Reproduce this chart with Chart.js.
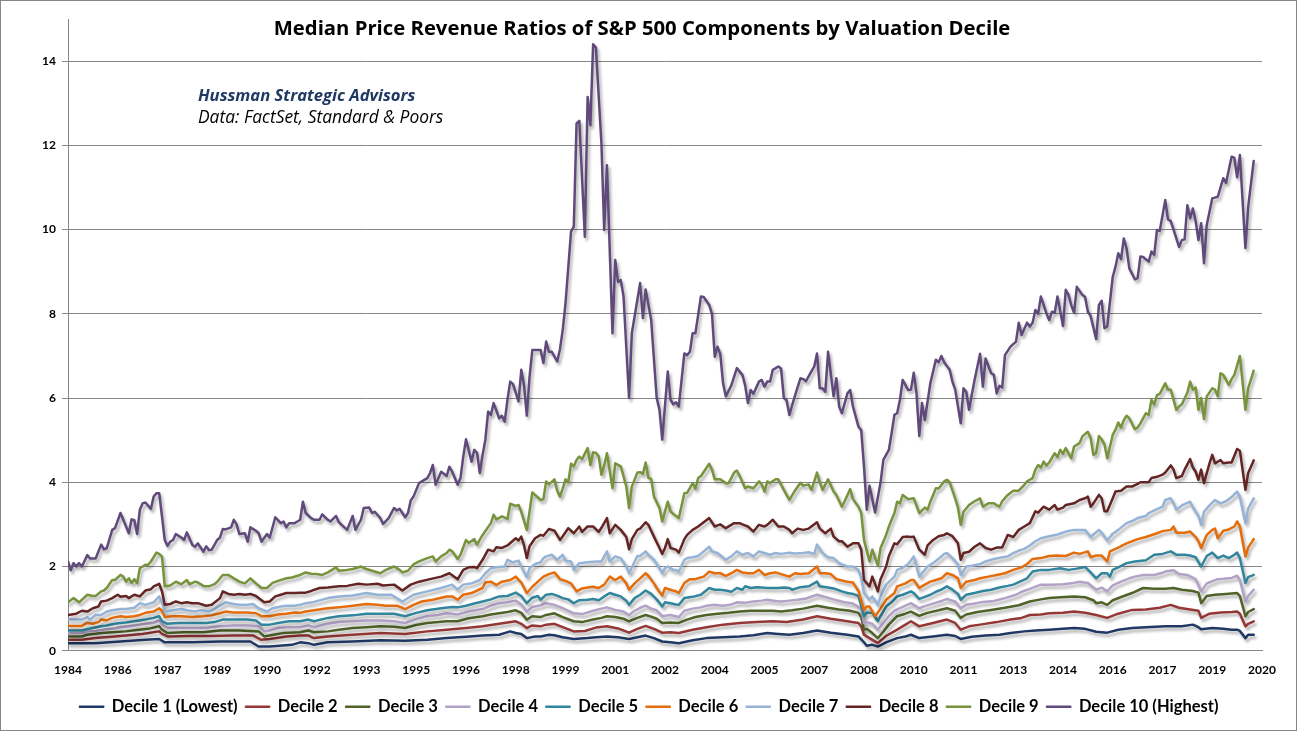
<!DOCTYPE html>
<html><head><meta charset="utf-8">
<script src="https://cdn.jsdelivr.net/npm/chart.js@4.4.1/dist/chart.umd.min.js"></script>
<style>html,body{margin:0;padding:0;background:#fff;}canvas{display:block;}</style>
</head><body>
<canvas id="c" width="1297" height="731"></canvas>
<script>
// x = month index from the first data point; axis labels every 18 months
const tickLabels = ['1984','1986','1987','1989','1990','1992','1993','1995','1996','1998','1999','2001','2002','2004','2005','2007','2008','2010','2011','2013','2014','2016','2017','2019','2020'];
const yTicks = [0,2,4,6,8,10,12,14];
const seriesNames = ['Decile 1 (Lowest)','Decile 2','Decile 3','Decile 4','Decile 5','Decile 6','Decile 7','Decile 8','Decile 9','Decile 10 (Highest)'];
const seriesColors = ['#203864','#953735','#4F6228','#B3A2C7','#31859C','#E46C0A','#95B3D7','#632523','#77933C','#604A7B'];

const decile1 = [[0,0.18],[10,0.18],[19,0.22],[28,0.26],[33,0.28],[35,0.20],[45,0.20],[55,0.22],[66,0.22],[69,0.10],[73,0.10],[81,0.14],[84,0.20],[87,0.18],[89,0.14],[94,0.20],[103,0.22],[113,0.25],[122,0.24],[130,0.26],[137,0.30],[144,0.33],[150,0.36],[156,0.38],[160,0.46],[162,0.42],[164,0.40],[166,0.30],[169,0.34],[171,0.34],[174,0.38],[176,0.37],[179,0.32],[183,0.28],[188,0.30],[191,0.32],[195,0.34],[199,0.32],[203,0.28],[206,0.32],[209,0.36],[212,0.30],[215,0.22],[218,0.20],[221,0.18],[226,0.25],[231,0.30],[237,0.32],[243,0.34],[248,0.37],[253,0.42],[257,0.40],[261,0.38],[266,0.42],[271,0.48],[276,0.43],[282,0.38],[286,0.34],[288,0.20],[289,0.12],[291,0.14],[293,0.10],[296,0.20],[300,0.30],[303,0.34],[305,0.38],[308,0.30],[313,0.34],[318,0.38],[321,0.35],[323,0.28],[327,0.33],[332,0.36],[337,0.38],[341,0.42],[346,0.46],[350,0.48],[355,0.50],[360,0.52],[364,0.54],[368,0.52],[372,0.45],[376,0.43],[380,0.50],[385,0.54],[390,0.56],[397,0.58],[403,0.58],[407,0.62],[409,0.56],[410,0.51],[414,0.54],[418,0.52],[421,0.50],[423,0.50],[424,0.47],[426,0.30],[427,0.38],[429,0.38]];

const decile2 = [[0,0.26],[5,0.26],[10,0.30],[16,0.33],[21,0.36],[27,0.40],[33,0.46],[34,0.40],[36,0.34],[44,0.35],[52,0.35],[60,0.36],[67,0.36],[70,0.26],[73,0.28],[79,0.34],[84,0.36],[87,0.36],[89,0.30],[94,0.34],[103,0.38],[113,0.42],[122,0.40],[130,0.46],[137,0.50],[144,0.54],[150,0.58],[156,0.64],[162,0.70],[164,0.64],[166,0.54],[168,0.60],[171,0.58],[173,0.62],[176,0.64],[179,0.56],[183,0.46],[187,0.47],[191,0.55],[195,0.58],[199,0.53],[203,0.43],[206,0.52],[209,0.59],[212,0.52],[215,0.43],[218,0.44],[221,0.42],[226,0.50],[231,0.56],[237,0.62],[243,0.66],[249,0.68],[255,0.70],[260,0.68],[266,0.74],[271,0.82],[276,0.76],[282,0.70],[286,0.66],[287,0.58],[288,0.38],[290,0.30],[293,0.18],[296,0.35],[300,0.50],[303,0.62],[305,0.70],[308,0.58],[313,0.66],[318,0.74],[321,0.66],[323,0.50],[326,0.58],[330,0.62],[336,0.68],[341,0.74],[345,0.78],[348,0.85],[352,0.86],[355,0.89],[360,0.90],[364,0.93],[368,0.90],[372,0.85],[376,0.78],[380,0.88],[385,0.97],[390,0.98],[395,1.02],[399,1.09],[402,1.02],[406,0.98],[409,0.95],[410,0.78],[413,0.88],[417,0.91],[421,0.92],[423,0.93],[424,0.88],[426,0.58],[427,0.64],[429,0.70]];

const decile3 = [[0,0.34],[5,0.34],[7,0.38],[12,0.42],[16,0.44],[21,0.46],[25,0.49],[29,0.52],[33,0.58],[34,0.50],[36,0.42],[42,0.44],[49,0.44],[55,0.48],[62,0.48],[69,0.46],[71,0.34],[73,0.36],[78,0.42],[84,0.44],[87,0.48],[89,0.44],[94,0.46],[98,0.50],[103,0.54],[108,0.56],[113,0.58],[118,0.57],[122,0.54],[126,0.61],[130,0.66],[134,0.68],[137,0.70],[141,0.70],[145,0.77],[150,0.82],[153,0.86],[156,0.89],[159,0.92],[162,0.96],[164,0.90],[166,0.74],[168,0.82],[171,0.80],[173,0.85],[176,0.89],[179,0.80],[183,0.70],[186,0.68],[190,0.74],[193,0.78],[195,0.82],[198,0.80],[201,0.76],[203,0.70],[206,0.78],[209,0.85],[211,0.81],[213,0.76],[215,0.66],[218,0.67],[221,0.66],[224,0.74],[227,0.80],[231,0.85],[235,0.88],[239,0.90],[243,0.93],[247,0.95],[251,0.95],[255,0.95],[258,0.93],[262,0.96],[266,1.00],[271,1.07],[275,1.02],[279,0.98],[283,0.95],[286,0.90],[287,0.80],[288,0.50],[289,0.52],[291,0.42],[293,0.30],[295,0.45],[297,0.62],[300,0.82],[303,0.88],[305,0.93],[308,0.83],[311,0.90],[315,0.96],[318,1.01],[321,0.95],[323,0.78],[325,0.86],[329,0.92],[334,0.97],[339,1.02],[344,1.08],[348,1.17],[352,1.22],[355,1.25],[359,1.27],[364,1.29],[368,1.27],[371,1.20],[372,1.13],[374,1.15],[376,1.09],[378,1.20],[382,1.30],[385,1.37],[389,1.49],[393,1.47],[397,1.47],[400,1.49],[403,1.45],[407,1.42],[409,1.38],[410,1.13],[412,1.30],[415,1.33],[419,1.35],[421,1.36],[423,1.37],[424,1.30],[426,0.82],[427,0.92],[429,0.99]];

const decile4 = [[0,0.42],[5,0.42],[7,0.46],[10,0.47],[12,0.49],[14,0.51],[17,0.53],[19,0.56],[22,0.58],[24,0.60],[26,0.62],[28,0.64],[31,0.66],[33,0.72],[34,0.62],[36,0.54],[40,0.54],[45,0.54],[50,0.54],[55,0.58],[60,0.60],[65,0.60],[69,0.58],[71,0.46],[73,0.48],[76,0.54],[80,0.56],[84,0.56],[87,0.60],[89,0.56],[94,0.64],[98,0.68],[103,0.70],[108,0.72],[113,0.72],[118,0.70],[122,0.66],[126,0.75],[130,0.82],[134,0.85],[137,0.89],[141,0.86],[145,0.93],[150,0.99],[153,1.07],[156,1.13],[159,1.15],[162,1.19],[164,1.10],[166,0.93],[168,1.04],[171,1.08],[173,1.13],[176,1.09],[179,1.01],[183,0.89],[186,0.87],[190,0.95],[193,1.00],[195,1.03],[198,0.97],[201,0.93],[203,0.85],[205,0.95],[207,1.02],[209,1.07],[211,1.00],[213,0.96],[215,0.82],[218,0.85],[221,0.80],[223,0.95],[226,1.00],[229,1.03],[231,1.07],[234,1.09],[237,1.07],[240,1.10],[242,1.15],[245,1.14],[248,1.17],[251,1.19],[253,1.21],[256,1.18],[258,1.17],[261,1.19],[264,1.21],[267,1.24],[271,1.33],[274,1.28],[277,1.22],[281,1.15],[284,1.12],[287,1.00],[288,0.66],[289,0.68],[291,0.64],[293,0.50],[295,0.66],[297,0.82],[299,0.95],[301,1.01],[303,1.07],[305,1.13],[308,1.01],[310,1.06],[313,1.12],[316,1.18],[318,1.23],[321,1.17],[323,1.01],[325,1.09],[328,1.12],[331,1.16],[335,1.18],[339,1.25],[343,1.33],[345,1.40],[348,1.47],[352,1.57],[356,1.57],[360,1.58],[363,1.60],[366,1.64],[369,1.61],[372,1.45],[374,1.50],[376,1.41],[378,1.55],[381,1.64],[384,1.72],[386,1.76],[389,1.80],[393,1.80],[396,1.85],[397,1.88],[400,1.91],[402,1.82],[405,1.80],[408,1.70],[410,1.41],[412,1.60],[414,1.65],[416,1.70],[418,1.71],[421,1.73],[423,1.78],[424,1.68],[426,1.17],[427,1.30],[429,1.45]];

const decile5 = [[0,0.48],[5,0.48],[7,0.51],[9,0.54],[12,0.58],[14,0.60],[17,0.64],[19,0.66],[21,0.67],[24,0.70],[26,0.72],[28,0.74],[31,0.78],[33,0.82],[34,0.70],[36,0.64],[40,0.66],[45,0.66],[50,0.66],[53,0.68],[56,0.74],[60,0.74],[65,0.74],[68,0.72],[70,0.62],[73,0.62],[76,0.66],[80,0.70],[84,0.70],[87,0.74],[89,0.70],[94,0.78],[98,0.82],[103,0.84],[108,0.88],[113,0.88],[118,0.88],[122,0.82],[126,0.90],[130,0.96],[135,1.01],[139,1.04],[141,1.03],[144,1.07],[147,1.12],[150,1.17],[153,1.22],[156,1.29],[159,1.30],[162,1.38],[164,1.30],[166,1.13],[168,1.26],[170,1.30],[171,1.21],[173,1.33],[175,1.35],[177,1.31],[179,1.25],[181,1.22],[183,1.13],[185,1.20],[188,1.21],[190,1.23],[192,1.20],[194,1.29],[196,1.37],[198,1.33],[200,1.29],[202,1.19],[203,1.09],[205,1.25],[207,1.33],[209,1.43],[211,1.35],[213,1.22],[215,1.05],[216,1.15],[218,1.13],[220,1.10],[221,1.09],[223,1.25],[226,1.28],[229,1.33],[232,1.49],[234,1.45],[236,1.45],[238,1.43],[240,1.40],[242,1.49],[244,1.45],[245,1.53],[247,1.49],[249,1.51],[251,1.50],[253,1.49],[255,1.49],[257,1.49],[259,1.50],[261,1.49],[262,1.45],[265,1.51],[268,1.53],[271,1.64],[272,1.53],[275,1.50],[277,1.48],[280,1.41],[282,1.37],[284,1.35],[286,1.30],[288,0.82],[289,0.90],[291,0.90],[293,0.70],[294,0.82],[296,1.05],[298,1.15],[300,1.29],[302,1.33],[305,1.41],[306,1.37],[308,1.23],[310,1.28],[312,1.33],[314,1.40],[316,1.45],[318,1.53],[320,1.45],[322,1.35],[323,1.21],[325,1.33],[328,1.37],[331,1.42],[334,1.45],[337,1.50],[340,1.54],[342,1.57],[345,1.66],[347,1.72],[349,1.88],[352,1.92],[355,1.92],[359,1.96],[362,1.92],[365,1.95],[368,1.99],[370,1.86],[372,1.72],[374,1.84],[376,1.84],[377,1.76],[378,1.92],[380,1.98],[383,2.08],[386,2.12],[390,2.15],[393,2.28],[396,2.30],[399,2.36],[401,2.28],[404,2.28],[406,2.26],[408,2.22],[410,2.00],[412,2.25],[414,2.33],[416,2.20],[418,2.26],[420,2.20],[422,2.28],[423,2.33],[424,2.20],[426,1.61],[427,1.75],[429,1.80]];

const decile6 = [[0,0.59],[3,0.59],[5,0.59],[7,0.66],[9,0.64],[11,0.68],[12,0.74],[14,0.72],[16,0.78],[19,0.82],[21,0.80],[24,0.82],[26,0.85],[28,0.90],[31,0.93],[33,1.01],[34,0.95],[35,0.80],[38,0.82],[41,0.82],[45,0.80],[49,0.82],[52,0.84],[55,0.89],[57,0.93],[60,0.91],[65,0.91],[68,0.89],[70,0.82],[73,0.82],[76,0.86],[79,0.88],[82,0.91],[84,0.90],[86,0.93],[89,0.96],[94,1.01],[98,1.03],[103,1.07],[108,1.11],[112,1.09],[115,1.07],[119,1.07],[122,0.99],[125,1.09],[128,1.17],[132,1.21],[137,1.29],[139,1.29],[141,1.21],[143,1.33],[146,1.37],[150,1.49],[151,1.62],[153,1.64],[155,1.56],[157,1.64],[160,1.68],[162,1.76],[164,1.62],[166,1.37],[168,1.52],[170,1.64],[172,1.76],[174,1.82],[176,1.86],[178,1.70],[180,1.66],[182,1.60],[184,1.41],[186,1.48],[188,1.50],[190,1.52],[192,1.49],[194,1.57],[196,1.76],[198,1.68],[200,1.76],[202,1.60],[203,1.45],[205,1.60],[207,1.72],[209,1.84],[210,1.78],[212,1.60],[213,1.49],[215,1.31],[216,1.49],[218,1.45],[220,1.41],[221,1.37],[223,1.61],[225,1.70],[227,1.70],[228,1.72],[230,1.76],[232,1.88],[234,1.84],[236,1.84],[238,1.78],[240,1.84],[242,1.92],[244,1.86],[246,1.84],[248,1.84],[250,1.92],[252,1.80],[254,1.84],[256,1.86],[258,1.82],[261,1.76],[263,1.84],[265,1.82],[268,1.84],[271,2.00],[272,1.84],[274,1.84],[276,1.82],[278,1.70],[282,1.64],[284,1.62],[286,1.42],[288,0.97],[289,1.05],[290,1.05],[292,0.82],[294,1.00],[296,1.21],[299,1.37],[300,1.53],[303,1.60],[305,1.68],[306,1.68],[308,1.49],[310,1.57],[312,1.64],[314,1.68],[316,1.72],[318,1.84],[320,1.80],[322,1.72],[323,1.49],[325,1.64],[328,1.68],[330,1.72],[333,1.76],[336,1.80],[339,1.84],[342,1.92],[345,1.98],[347,2.06],[349,2.18],[352,2.20],[355,2.25],[358,2.26],[361,2.25],[364,2.33],[366,2.30],[369,2.36],[370,2.22],[372,2.26],[374,2.26],[376,2.12],[377,2.36],[380,2.45],[383,2.55],[387,2.65],[390,2.70],[394,2.79],[396,2.84],[399,2.87],[400,2.95],[401,2.80],[404,2.80],[406,2.83],[408,2.70],[409,2.60],[410,2.44],[412,2.75],[414,2.87],[415,2.90],[416,2.67],[418,2.85],[420,2.88],[422,2.95],[423,3.07],[424,2.95],[426,2.24],[427,2.45],[429,2.65]];

const decile7 = [[0,0.74],[3,0.74],[5,0.74],[7,0.80],[8,0.74],[10,0.85],[12,0.85],[14,0.93],[16,0.96],[19,0.99],[21,0.99],[24,1.02],[26,1.13],[28,1.09],[31,1.15],[33,1.29],[34,1.15],[35,0.93],[38,0.96],[41,0.99],[43,0.96],[46,0.93],[48,0.96],[51,0.93],[53,0.99],[55,1.07],[57,1.15],[60,1.11],[62,1.09],[65,1.09],[67,1.11],[69,1.01],[72,0.93],[74,1.01],[77,1.05],[79,1.07],[82,1.07],[84,1.09],[86,1.13],[89,1.16],[94,1.25],[98,1.29],[103,1.31],[108,1.37],[112,1.33],[117,1.33],[121,1.17],[125,1.33],[130,1.41],[135,1.49],[139,1.57],[141,1.45],[143,1.57],[146,1.60],[149,1.68],[151,1.84],[153,1.96],[155,1.98],[158,2.00],[159,2.16],[161,2.10],[163,2.14],[164,2.00],[166,1.75],[167,1.96],[169,2.06],[171,2.10],[172,2.20],[173,2.24],[175,2.28],[177,2.16],[179,2.28],[180,2.14],[182,2.12],[183,1.92],[185,2.08],[188,2.10],[191,2.12],[193,2.12],[195,2.36],[196,2.12],[198,2.24],[200,2.20],[202,2.00],[203,1.84],[205,2.12],[206,2.25],[207,2.25],[209,2.36],[210,2.28],[212,2.16],[214,1.96],[215,1.84],[216,1.96],[217,2.00],[219,1.92],[220,1.92],[221,1.88],[223,2.16],[224,2.20],[226,2.22],[228,2.25],[230,2.36],[232,2.47],[233,2.36],[235,2.32],[238,2.16],[240,2.24],[242,2.36],[244,2.28],[246,2.32],[248,2.24],[250,2.36],[252,2.32],[254,2.28],[256,2.32],[258,2.30],[261,2.33],[263,2.31],[266,2.32],[268,2.34],[270,2.30],[271,2.52],[273,2.32],[275,2.22],[277,2.20],[279,2.08],[282,2.00],[284,2.00],[286,1.92],[287,1.72],[288,1.37],[290,1.21],[291,1.29],[293,1.09],[294,1.29],[296,1.57],[299,1.76],[300,1.92],[302,1.97],[304,2.06],[306,2.24],[308,1.76],[310,1.92],[311,2.00],[313,2.08],[316,2.24],[317,2.30],[318,2.32],[320,2.20],[322,2.05],[323,1.80],[325,2.00],[327,2.02],[330,2.06],[332,2.12],[335,2.18],[338,2.22],[340,2.24],[342,2.32],[344,2.38],[346,2.42],[348,2.50],[350,2.60],[352,2.67],[355,2.72],[358,2.76],[361,2.83],[364,2.87],[366,2.87],[368,2.87],[370,2.70],[371,2.76],[373,2.87],[374,2.80],[376,2.62],[378,2.78],[380,2.87],[383,3.03],[385,3.08],[387,3.15],[390,3.20],[391,3.27],[394,3.36],[396,3.42],[397,3.58],[399,3.62],[400,3.50],[401,3.35],[403,3.45],[406,3.54],[407,3.40],[409,3.20],[410,2.99],[411,3.30],[413,3.45],[415,3.58],[417,3.50],[419,3.55],[421,3.65],[423,3.78],[424,3.65],[426,3.03],[427,3.38],[429,3.62]];

const decile8 = [[0,0.85],[3,0.88],[5,0.95],[7,0.93],[9,1.01],[11,1.05],[12,1.17],[14,1.19],[16,1.25],[18,1.33],[19,1.28],[21,1.30],[22,1.25],[24,1.33],[26,1.29],[28,1.43],[30,1.46],[31,1.53],[33,1.59],[34,1.41],[35,1.09],[37,1.11],[39,1.17],[41,1.13],[43,1.15],[45,1.13],[47,1.13],[50,1.07],[52,1.09],[55,1.25],[56,1.41],[58,1.35],[60,1.33],[62,1.35],[64,1.33],[66,1.35],[68,1.30],[71,1.15],[73,1.17],[75,1.29],[77,1.33],[79,1.37],[82,1.37],[84,1.38],[86,1.38],[88,1.42],[91,1.49],[94,1.50],[98,1.53],[101,1.54],[105,1.59],[108,1.57],[112,1.59],[114,1.55],[118,1.57],[121,1.43],[124,1.57],[127,1.64],[131,1.70],[135,1.76],[138,1.84],[141,1.70],[143,1.92],[145,1.98],[147,1.99],[148,1.96],[150,2.16],[152,2.40],[154,2.36],[155,2.46],[157,2.44],[159,2.50],[162,2.67],[163,2.62],[164,2.71],[165,2.50],[166,2.20],[167,2.48],[169,2.67],[171,2.75],[172,2.73],[174,2.89],[176,2.85],[178,2.63],[179,2.72],[181,2.91],[183,2.79],[185,2.95],[186,2.82],[188,2.95],[190,2.95],[192,2.82],[193,2.92],[195,3.15],[196,2.79],[198,2.99],[200,2.87],[202,2.70],[203,2.41],[204,2.65],[206,2.87],[207,2.90],[209,3.05],[210,2.99],[211,2.85],[212,2.71],[214,2.44],[215,2.30],[216,2.44],[217,2.65],[218,2.44],[220,2.40],[221,2.33],[223,2.65],[224,2.75],[226,2.87],[228,2.95],[230,3.05],[232,3.15],[234,2.95],[236,3.00],[238,2.91],[241,3.03],[243,3.03],[244,3.00],[246,2.95],[248,2.83],[250,2.99],[252,2.95],[253,2.99],[255,3.11],[257,2.95],[259,2.95],[261,2.87],[262,2.79],[264,2.90],[266,2.87],[268,2.90],[271,3.05],[272,2.90],[274,2.79],[276,2.90],[277,2.71],[279,2.60],[280,2.60],[282,2.47],[284,2.55],[286,2.55],[287,2.40],[288,1.68],[290,1.53],[291,1.76],[293,1.41],[294,1.70],[296,2.00],[297,2.25],[299,2.55],[300,2.53],[302,2.70],[304,2.71],[305,2.70],[306,2.71],[308,2.40],[310,2.28],[311,2.50],[313,2.63],[315,2.72],[317,2.75],[318,2.79],[320,2.72],[322,2.55],[323,2.16],[324,2.32],[326,2.35],[328,2.47],[330,2.55],[332,2.44],[334,2.40],[336,2.45],[338,2.45],[340,2.75],[342,2.70],[344,2.87],[346,2.95],[348,3.03],[350,3.31],[351,3.28],[353,3.42],[355,3.35],[357,3.46],[358,3.35],[360,3.40],[361,3.46],[364,3.50],[366,3.58],[368,3.62],[369,3.66],[370,3.42],[371,3.50],[373,3.70],[374,3.62],[375,3.31],[376,3.31],[378,3.62],[379,3.78],[381,3.80],[383,3.90],[385,3.90],[387,3.96],[388,4.00],[391,4.00],[392,4.10],[394,4.13],[396,4.18],[397,4.23],[399,4.40],[400,4.30],[401,4.10],[403,4.15],[404,4.30],[406,4.55],[407,4.35],[408,4.25],[409,4.06],[410,4.30],[411,3.98],[413,4.45],[414,4.65],[415,4.45],[417,4.53],[418,4.45],[420,4.47],[421,4.47],[423,4.79],[424,4.75],[426,3.82],[427,4.22],[429,4.52]];

const decile9 = [[0,1.15],[2,1.25],[4,1.15],[7,1.33],[9,1.30],[10,1.30],[12,1.41],[13,1.43],[14,1.49],[16,1.68],[17,1.68],[19,1.80],[20,1.76],[21,1.64],[22,1.72],[23,1.61],[24,1.70],[25,1.61],[26,1.96],[28,2.04],[29,2.04],[30,2.12],[32,2.33],[33,2.30],[34,2.24],[35,1.53],[37,1.55],[39,1.64],[41,1.58],[43,1.68],[44,1.58],[46,1.64],[47,1.62],[49,1.54],[51,1.53],[53,1.58],[54,1.64],[56,1.80],[58,1.80],[60,1.72],[62,1.64],[64,1.60],[66,1.72],[68,1.60],[70,1.49],[72,1.49],[74,1.61],[76,1.66],[79,1.72],[81,1.74],[84,1.80],[86,1.86],[88,1.83],[90,1.82],[92,1.80],[94,1.86],[97,1.98],[98,1.90],[101,1.92],[103,1.94],[106,2.00],[108,1.94],[110,1.90],[113,1.84],[115,1.92],[118,2.00],[120,1.92],[121,1.86],[123,1.90],[125,2.05],[127,2.12],[130,2.20],[132,2.24],[133,2.12],[135,2.24],[137,2.32],[138,2.40],[139,2.36],[141,2.18],[142,2.28],[144,2.63],[145,2.56],[147,2.65],[148,2.52],[150,2.75],[153,3.03],[154,3.23],[155,3.12],[157,3.19],[159,3.13],[160,3.49],[162,3.44],[163,3.46],[164,3.30],[166,2.87],[167,3.31],[168,3.76],[171,3.58],[172,3.60],[173,4.02],[174,3.95],[176,4.07],[177,3.80],[178,3.66],[179,3.85],[180,4.07],[181,4.00],[182,4.44],[183,4.38],[184,4.53],[185,4.61],[186,4.55],[188,4.81],[189,4.41],[190,4.71],[191,4.70],[192,4.62],[193,4.18],[194,4.40],[195,4.69],[197,3.86],[198,4.45],[200,4.38],[202,3.90],[203,3.39],[204,3.90],[206,4.23],[207,4.24],[208,4.20],[209,4.47],[210,4.10],[211,4.08],[212,3.66],[214,3.39],[215,3.07],[216,3.31],[217,3.54],[218,3.31],[219,3.25],[221,3.15],[223,3.74],[224,3.75],[226,3.98],[227,3.85],[228,4.10],[229,4.15],[232,4.44],[233,4.30],[234,4.07],[236,4.07],[238,3.98],[239,3.98],[241,4.23],[242,4.28],[243,4.15],[245,3.86],[246,3.90],[248,3.86],[250,4.02],[251,3.95],[252,3.78],[253,4.02],[254,3.98],[256,4.07],[257,4.07],[259,3.82],[261,3.58],[263,3.80],[265,3.99],[266,3.92],[268,3.95],[269,3.82],[271,4.23],[272,4.00],[273,3.82],[275,4.07],[277,3.78],[278,3.70],[280,3.42],[281,3.55],[283,3.84],[284,3.60],[286,3.42],[287,3.27],[288,2.63],[290,2.12],[291,2.40],[293,2.02],[294,2.44],[296,2.75],[297,2.95],[299,3.27],[300,3.54],[301,3.50],[302,3.70],[304,3.60],[306,3.62],[308,3.27],[310,3.40],[311,3.35],[312,3.54],[314,3.86],[315,3.85],[317,4.02],[318,4.06],[319,4.00],[321,3.62],[322,3.40],[323,2.99],[324,3.30],[326,3.46],[328,3.55],[330,3.62],[331,3.42],[333,3.50],[335,3.50],[337,3.42],[338,3.55],[340,3.70],[342,3.80],[344,3.80],[346,3.94],[347,4.02],[348,4.06],[349,4.10],[350,4.30],[351,4.41],[352,4.35],[353,4.49],[354,4.40],[355,4.47],[357,4.69],[358,4.60],[359,4.77],[360,4.68],[361,4.81],[363,4.57],[364,4.85],[366,4.93],[367,5.09],[369,5.20],[370,5.05],[371,4.65],[372,4.70],[373,5.10],[374,5.02],[375,4.90],[376,4.57],[378,5.13],[379,5.25],[380,5.42],[381,5.30],[382,5.48],[383,5.58],[384,5.52],[386,5.26],[387,5.30],[388,5.40],[390,5.64],[391,5.60],[392,5.96],[393,5.85],[394,6.07],[395,6.10],[397,6.35],[398,6.20],[399,6.20],[401,5.72],[402,5.80],[403,5.85],[405,6.13],[406,6.39],[407,6.20],[408,6.25],[409,5.72],[410,6.00],[411,5.50],[412,6.04],[414,6.23],[415,6.20],[416,6.04],[417,6.59],[418,6.55],[420,6.31],[421,6.45],[422,6.55],[424,7.00],[426,5.72],[427,6.23],[429,6.65]];

const decile10 = [[0,2.12],[1,1.91],[2,2.08],[3,2.00],[4,2.08],[5,2.00],[7,2.27],[8,2.19],[10,2.19],[12,2.52],[13,2.41],[14,2.43],[16,2.87],[17,2.91],[19,3.27],[21,2.95],[22,2.79],[23,3.12],[24,3.10],[25,2.77],[26,3.35],[27,3.50],[28,3.52],[30,3.37],[31,3.66],[32,3.74],[33,3.74],[34,3.19],[35,2.63],[36,2.49],[37,2.59],[38,2.63],[39,2.77],[41,2.69],[42,2.63],[43,2.81],[45,2.51],[46,2.47],[47,2.55],[49,2.35],[50,2.48],[51,2.39],[52,2.40],[54,2.63],[55,2.69],[56,2.89],[57,2.88],[59,2.93],[60,3.11],[61,3.00],[62,2.77],[64,2.79],[65,2.59],[66,2.93],[68,2.85],[69,2.79],[70,2.59],[72,2.77],[73,2.69],[75,3.17],[77,3.03],[78,3.07],[79,2.93],[80,3.03],[82,3.03],[83,3.07],[84,3.11],[85,3.54],[86,3.27],[88,3.15],[89,3.11],[91,3.11],[92,3.24],[94,3.11],[95,3.07],[97,3.20],[98,3.05],[100,2.93],[101,2.87],[103,3.20],[104,2.87],[106,3.11],[107,3.39],[109,3.40],[110,3.27],[111,3.30],[113,3.15],[114,3.01],[115,3.08],[116,3.15],[118,3.39],[119,3.33],[120,3.37],[122,3.17],[123,3.27],[124,3.57],[125,3.66],[127,3.98],[130,4.10],[131,4.22],[132,4.41],[133,3.94],[135,4.25],[136,4.20],[137,4.15],[138,4.37],[139,4.25],[141,3.94],[142,4.10],[143,4.61],[144,5.02],[146,4.49],[147,4.77],[148,4.70],[149,4.22],[150,4.65],[151,5.01],[152,5.68],[153,5.60],[154,5.88],[156,5.52],[157,5.58],[158,5.44],[159,5.96],[160,6.39],[161,6.33],[163,5.92],[164,6.67],[165,6.30],[166,5.58],[167,6.51],[168,7.14],[171,7.14],[172,6.83],[173,7.34],[174,7.10],[175,7.10],[177,6.87],[178,7.16],[179,7.62],[180,8.25],[182,9.95],[183,10.07],[184,12.52],[185,12.58],[187,9.83],[188,13.15],[189,12.48],[190,14.40],[191,14.32],[193,12.05],[194,9.99],[195,11.53],[197,7.54],[198,9.28],[199,8.76],[200,8.80],[201,8.41],[203,6.00],[204,7.54],[207,8.73],[208,7.90],[209,8.58],[211,7.85],[213,6.00],[214,5.72],[215,5.01],[217,6.63],[218,5.96],[219,5.85],[220,5.90],[221,5.80],[223,7.06],[224,7.02],[225,7.10],[226,7.54],[227,7.54],[229,8.41],[230,8.40],[232,8.21],[233,8.00],[234,6.98],[235,7.22],[236,7.05],[237,6.35],[238,6.04],[240,6.30],[242,6.71],[244,6.55],[245,6.30],[246,5.88],[247,6.19],[248,6.10],[250,6.39],[251,6.43],[252,6.27],[253,6.39],[254,6.39],[255,6.67],[257,6.75],[258,6.70],[259,6.00],[260,5.95],[261,5.60],[263,6.05],[265,6.47],[266,6.45],[267,6.40],[270,6.75],[271,7.06],[272,6.23],[273,6.23],[274,6.15],[275,7.10],[277,6.04],[278,6.47],[279,5.80],[280,5.64],[282,6.11],[283,6.19],[284,5.80],[286,5.32],[287,5.24],[288,4.37],[289,3.35],[290,3.92],[292,3.28],[294,4.00],[295,4.53],[296,4.65],[297,4.77],[298,5.17],[299,5.60],[300,5.64],[301,5.96],[302,6.43],[304,6.19],[305,6.20],[306,6.60],[307,6.11],[308,5.10],[309,5.88],[310,5.48],[312,6.35],[314,6.91],[315,6.85],[316,7.00],[317,6.85],[319,6.67],[320,6.39],[321,6.20],[323,5.40],[324,6.23],[325,6.15],[326,5.72],[328,6.43],[330,7.05],[331,6.27],[332,6.94],[334,6.59],[335,6.55],[336,6.11],[337,6.29],[338,6.25],[339,7.02],[341,7.22],[343,7.34],[344,7.79],[345,7.50],[347,7.79],[348,7.70],[349,7.79],[350,8.09],[351,8.00],[352,8.41],[354,8.01],[355,7.85],[356,8.05],[357,8.02],[358,8.41],[360,7.71],[361,8.57],[362,8.45],[363,8.20],[364,8.03],[365,8.64],[367,8.45],[368,8.40],[369,8.05],[370,7.95],[372,7.40],[373,8.21],[374,8.31],[375,7.66],[376,7.70],[378,8.88],[379,9.12],[380,9.44],[381,9.30],[382,9.79],[383,9.55],[384,9.08],[386,8.82],[387,8.85],[388,9.36],[389,9.35],[391,9.24],[392,9.48],[393,9.40],[394,9.99],[395,9.97],[397,10.70],[398,10.24],[399,10.20],[402,9.59],[403,9.75],[404,9.77],[405,10.58],[406,10.27],[407,10.50],[408,10.20],[409,9.75],[410,10.15],[411,9.20],[412,10.11],[414,10.74],[415,10.76],[416,10.78],[418,11.22],[419,11.11],[421,11.73],[422,11.70],[423,11.24],[424,11.77],[426,9.56],[427,10.54],[429,11.63]];

const allSeries = [decile1,decile2,decile3,decile4,decile5,decile6,decile7,decile8,decile9,decile10];

const shadowPlugin = {
  id: 'lineShadow',
  beforeDatasetDraw(chart) {
    const c = chart.ctx;
    c.save();
    c.shadowColor = 'rgba(0,0,0,0.32)';
    c.shadowOffsetX = 2;
    c.shadowOffsetY = 3;
    c.shadowBlur = 3;
  },
  afterDatasetDraw(chart) { chart.ctx.restore(); }
};

const decorPlugin = {
  id: 'decor',
  afterDraw(chart) {
    const c = chart.ctx;
    c.save();
    c.fillStyle = '#000';
    c.textAlign = 'center';
    c.textBaseline = 'alphabetic';
    c.font = 'bold 20.3px "Open Sans"';
    c.fillText('Median Price Revenue Ratios of S&P 500 Components by Valuation Decile', 642, 35);
    c.textAlign = 'left';
    c.font = 'italic bold 16.6px "Open Sans"';
    c.fillStyle = '#1F3864';
    c.fillText('Hussman Strategic Advisors', 198, 101);
    c.font = 'italic 17.4px "Open Sans"';
    c.fillStyle = '#000';
    c.fillText('Data: FactSet, Standard & Poors', 198, 123);
    c.strokeStyle = '#868686';
    c.lineWidth = 1;
    c.strokeRect(0.5, 0.5, 1296, 730);
    c.restore();
  }
};

const tickFont = {family: 'Lato', size: 12, weight: 'bold'};

new Chart(document.getElementById('c'), {
  type: 'line',
  data: {
    datasets: allSeries.map((s, i) => ({
      label: seriesNames[i],
      data: s.map(p => ({x: p[0], y: p[1]})),
      borderColor: seriesColors[i],
      backgroundColor: seriesColors[i],
      borderWidth: 2.5,
      pointRadius: 0,
      tension: 0,
      borderJoinStyle: 'round',
      borderCapStyle: 'round',
      order: 9 - i
    }))
  },
  options: {
    responsive: false,
    animation: false,
    devicePixelRatio: 1,
    layout: {padding: {left: 36, right: 35, top: 19, bottom: 6}},
    scales: {
      x: {
        type: 'linear', min: 0, max: 432,
        afterBuildTicks(scale) { scale.ticks = tickLabels.map((l, i) => ({value: i * 18})); },
        afterFit(scale) { scale.height = 39.75; },
        ticks: {callback: (v) => tickLabels[Math.round(v / 18)], font: tickFont, color: '#000', padding: 12, maxRotation: 0, autoSkip: false},
        grid: {display: true, drawOnChartArea: false, drawTicks: false, color: '#868686'},
        border: {display: true, color: '#868686', width: 1}
      },
      y: {
        min: 0, max: 15,
        afterBuildTicks(scale) { scale.ticks = yTicks.map(v => ({value: v})); },
        afterFit(scale) { scale.width = 32; },
        ticks: {font: tickFont, color: '#000', padding: 6},
        grid: {color: '#868686', tickLength: 6, lineWidth: 1},
        border: {display: true, color: '#868686', width: 1}
      }
    },
    plugins: {
      legend: {
        position: 'bottom',
        labels: {
          boxWidth: 24, boxHeight: 1, padding: 8,
          font: {family: 'Lato', size: 16.5, weight: 'bold'}, color: '#000',
          sort: (a, b) => a.datasetIndex - b.datasetIndex,
          generateLabels(chart) {
            const items = Chart.defaults.plugins.legend.labels.generateLabels(chart);
            items.forEach(it => { it.lineWidth = 1.5; });
            return items;
          }
        }
      },
      tooltip: {enabled: false},
      title: {display: false}
    }
  },
  plugins: [shadowPlugin, decorPlugin]
});
</script>
</body></html>
